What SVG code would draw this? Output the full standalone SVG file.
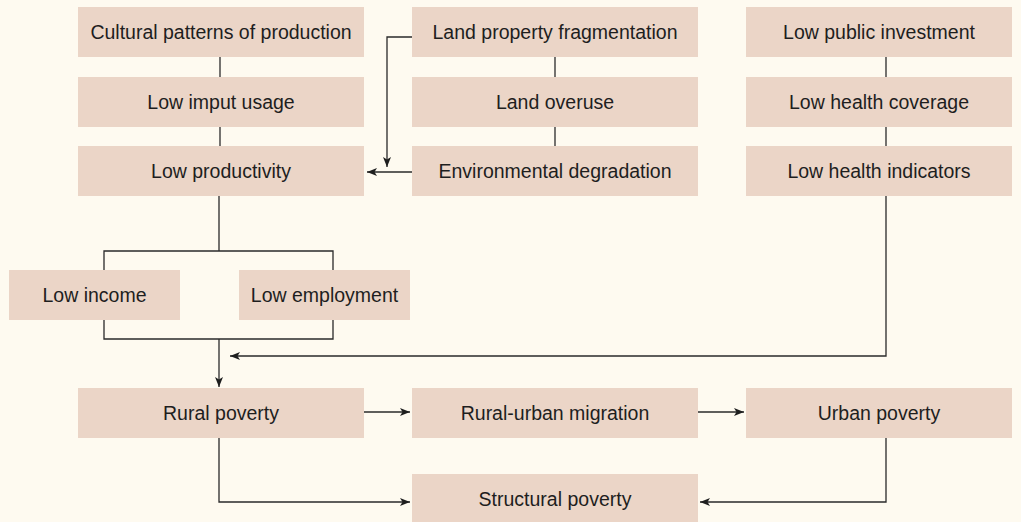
<svg xmlns="http://www.w3.org/2000/svg" width="1021" height="522" viewBox="0 0 1021 522">
<style>
.bg{fill:#FEFAF0}
.box{fill:#EBD5C7}
.t{font-family:"Liberation Sans",Arial,sans-serif;font-size:19.5px;fill:#1e1e1e;text-anchor:middle}
.ln{fill:none;stroke:#2a2a2a;stroke-width:1.3}
.ar{marker-end:url(#ah)}
</style>
<defs>
<marker id="ah" markerUnits="userSpaceOnUse" markerWidth="11" markerHeight="9" refX="10" refY="4" orient="auto">
<path d="M0,0 L10,4 L0,8 L2.5,4 z" fill="#1e1e1e"/>
</marker>
</defs>
<rect class="bg" x="0" y="0" width="1021" height="522"/>
<g id="connectors">
<path class="ln" d="M220,57 V77"/>
<path class="ln" d="M220,127 V146"/>
<path class="ln" d="M555,57 V77"/>
<path class="ln" d="M555,127 V146"/>
<path class="ln" d="M886,57 V77"/>
<path class="ln" d="M886,127 V146"/>
<path class="ln ar" d="M412,37 H387 V167"/>
<path class="ln ar" d="M412,172 H367"/>
<path class="ln" d="M219,196 V251 M104,270 V251 H333 V270"/>
<path class="ln" d="M104,320 V339 H333 V320"/>
<path class="ln ar" d="M219,339 V387"/>
<path class="ln ar" d="M886,196 V356 H230"/>
<path class="ln ar" d="M364,412 H410"/>
<path class="ln ar" d="M698,412 H744"/>
<path class="ln ar" d="M219,438 V502 H410"/>
<path class="ln ar" d="M886,438 V502 H700"/>
</g>
<g id="cultural"><rect class="box" x="78" y="7" width="286" height="50"/><text class="t" x="221" y="39">Cultural patterns of production</text></g>
<g id="imput"><rect class="box" x="78" y="77" width="286" height="50"/><text class="t" x="221" y="109">Low imput usage</text></g>
<g id="productivity"><rect class="box" x="78" y="146" width="286" height="50"/><text class="t" x="221" y="178">Low productivity</text></g>
<g id="fragmentation"><rect class="box" x="412" y="7" width="286" height="50"/><text class="t" x="555" y="39">Land property fragmentation</text></g>
<g id="overuse"><rect class="box" x="412" y="77" width="286" height="50"/><text class="t" x="555" y="109">Land overuse</text></g>
<g id="degradation"><rect class="box" x="412" y="146" width="286" height="50"/><text class="t" x="555" y="178">Environmental degradation</text></g>
<g id="investment"><rect class="box" x="746" y="7" width="266" height="50"/><text class="t" x="879" y="39">Low public investment</text></g>
<g id="coverage"><rect class="box" x="746" y="77" width="266" height="50"/><text class="t" x="879" y="109">Low health coverage</text></g>
<g id="indicators"><rect class="box" x="746" y="146" width="266" height="50"/><text class="t" x="879" y="178">Low health indicators</text></g>
<g id="income"><rect class="box" x="9" y="270" width="171" height="50"/><text class="t" x="94.5" y="302">Low income</text></g>
<g id="employment"><rect class="box" x="239" y="270" width="171" height="50"/><text class="t" x="324.5" y="302">Low employment</text></g>
<g id="rural"><rect class="box" x="78" y="388" width="286" height="50"/><text class="t" x="221" y="420">Rural poverty</text></g>
<g id="migration"><rect class="box" x="412" y="388" width="286" height="50"/><text class="t" x="555" y="420">Rural-urban migration</text></g>
<g id="urban"><rect class="box" x="746" y="388" width="266" height="50"/><text class="t" x="879" y="420">Urban poverty</text></g>
<g id="structural"><rect class="box" x="412" y="474" width="286" height="50"/><text class="t" x="555" y="506">Structural poverty</text></g>
</svg>
